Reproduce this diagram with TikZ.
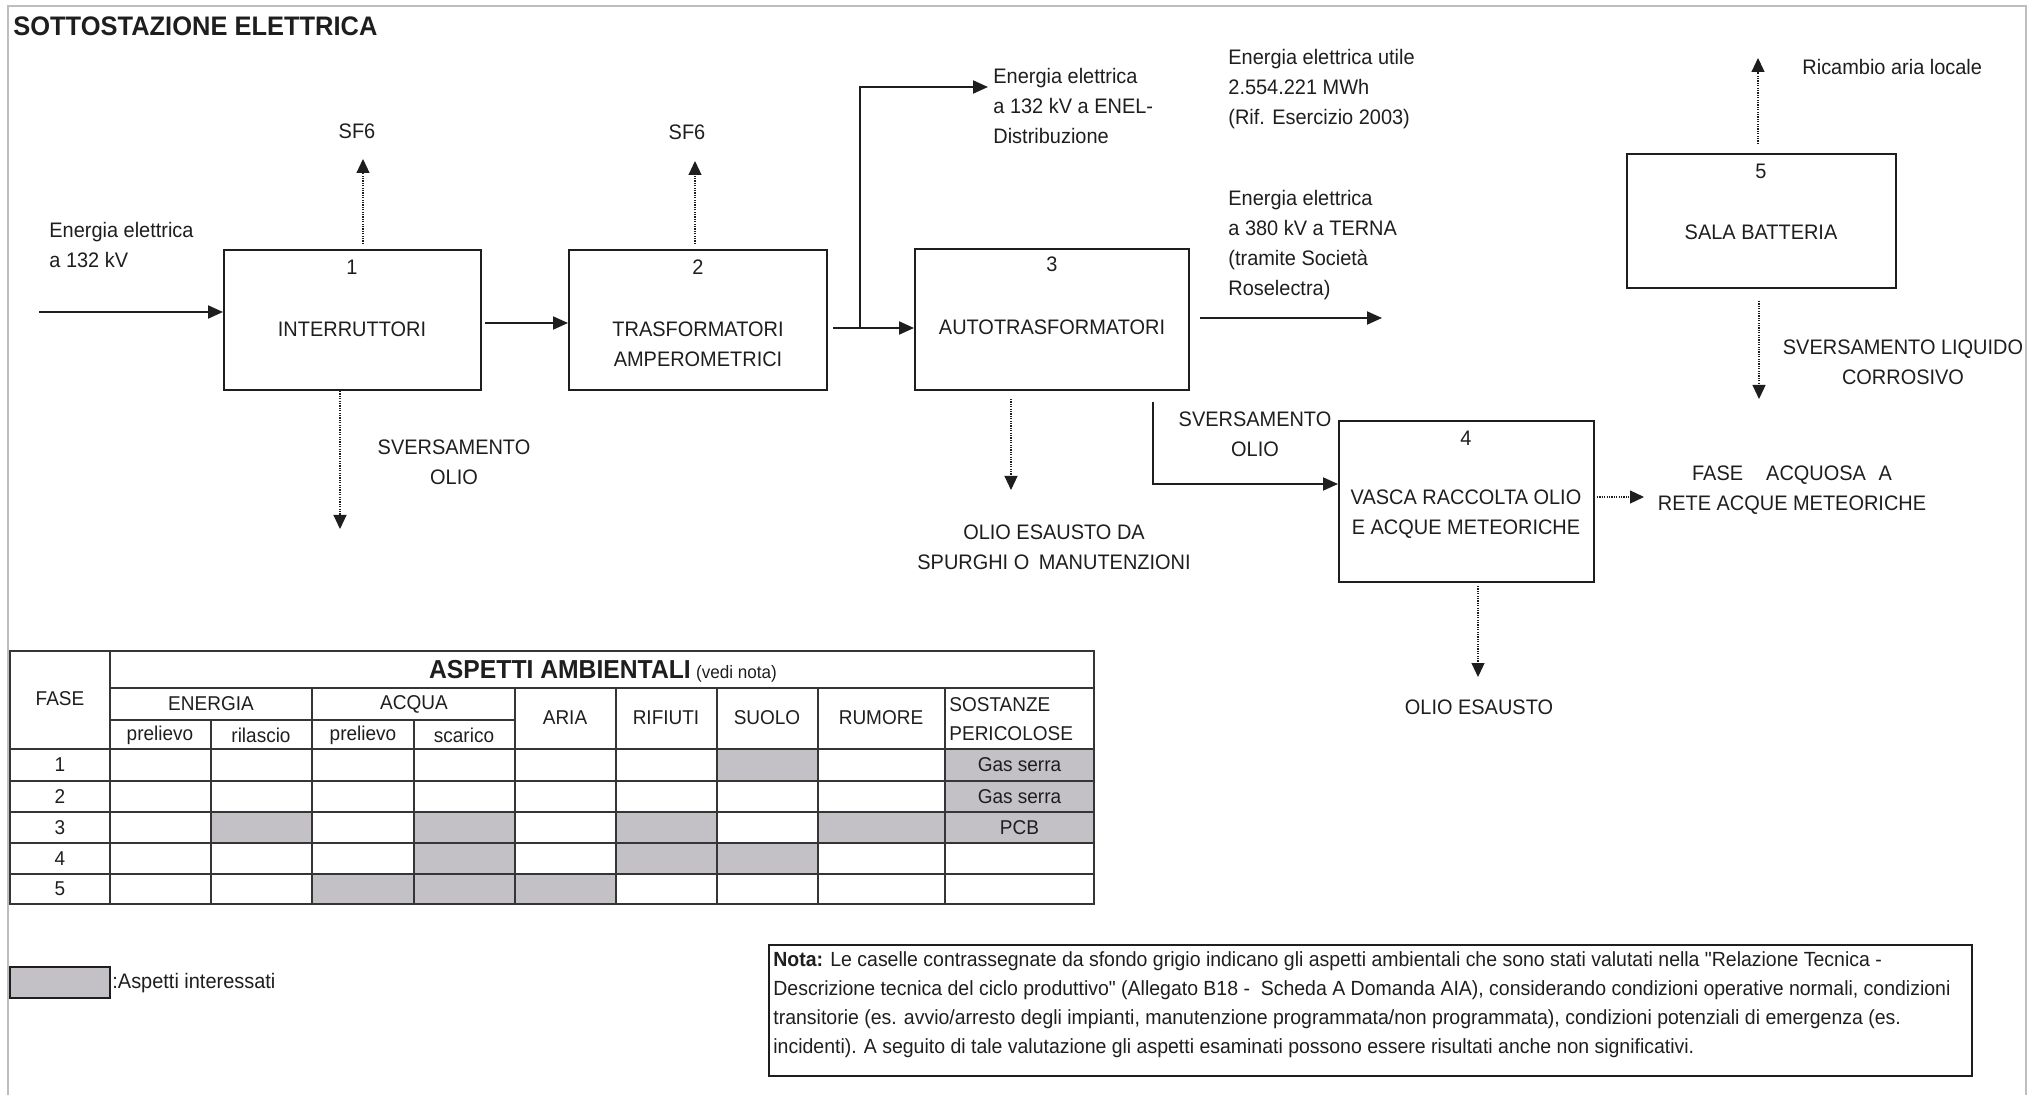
\documentclass[tikz,border=0pt]{standalone}
\usepackage{fontspec}
\setmainfont[FakeStretch=0.95,Ligatures=TeXOff]{Liberation Sans}
\usetikzlibrary{arrows.meta,calc}
\definecolor{cellgray}{RGB}{195,193,198}
\definecolor{framegray}{RGB}{190,190,190}
\definecolor{ink}{RGB}{30,30,30}
\begin{document}
\begin{tikzpicture}[x=0.5pt,y=-0.5pt,
  box/.style={draw=ink, line width=1pt, inner sep=0pt},
  lbl/.style={inner sep=0pt, font=\fontsize{10.5pt}{15pt}\selectfont, align=center, text=ink},
  lbll/.style={lbl, align=left},
  tbl/.style={inner sep=0pt, font=\fontsize{10pt}{14.5pt}\selectfont, align=center, text=ink},
  solarr/.style={draw=ink, line width=1pt, -{Triangle[length=7.5pt,width=6.5pt]}},
  dotarr/.style={draw=ink, line width=0.55pt, dash pattern=on 0.6pt off 0.6pt, -{Triangle[length=7pt,width=6.5pt]}},
  grid/.style={draw=ink!90, line width=0.8pt},
  gridb/.style={draw=ink!90, line width=1.2pt}]
\useasboundingbox (0,0) rectangle (2033,1095);
% frame
\draw[framegray, line width=0.7pt] (8,1095) -- (8,6) -- (2026,6) -- (2026,1095);
% title
\node[inner sep=0pt, anchor=west, font=\fontsize{13.4pt}{15pt}\selectfont\bfseries, text=ink] (title) at (13,26) {SOTTOSTAZIONE ELETTRICA};

% boxes
\node[box, minimum width=128.5pt, minimum height=70pt] (b1) at (352.5,320) {};
\node[box, minimum width=129pt, minimum height=70pt] (b2) at (698,320) {};
\node[box, minimum width=137pt, minimum height=70.5pt] (b3) at (1052,319.5) {};
\node[box, minimum width=127.5pt, minimum height=80.5pt] (b4) at (1466.5,501.5) {};
\node[box, minimum width=134.5pt, minimum height=67pt] (b5) at (1761.5,221) {};

% box texts
\node[lbl] (n1) at (352,267) {1};
\node[lbl] (t1) at (352,329) {INTERRUTTORI};
\node[lbl] (n2) at (698,267) {2};
\node[lbl] (t2) at (698,344) {TRASFORMATORI\\AMPEROMETRICI};
\node[lbl] (n3) at (1052,264) {3};
\node[lbl] (t3) at (1052,327) {AUTOTRASFORMATORI};
\node[lbl] (n4) at (1466,438) {4};
\node[lbl] (t4) at (1466,514) {VASCA RACCOLTA OLIO\\E ACQUE METEORICHE};
\node[lbl] (n5) at (1761,171) {5};
\node[lbl] (t5) at (1761,232) {SALA BATTERIA};

% input
\coordinate (in) at (39,312);
\draw[solarr] (in) -- (in -| b1.west);
\node[lbll, anchor=west] (lin) at (49,245) {Energia elettrica\\a 132 kV};

% SF6 1
\coordinate (sf1) at (363,159);
\draw[dotarr] ($(sf1 |- b1.north)+(0,-5)$) -- (sf1);
\node[lbl] (lsf1) at (357,131) {SF6};
% SF6 2
\coordinate (sf2) at (695,161);
\draw[dotarr] ($(sf2 |- b2.north)+(0,-5)$) -- (sf2);
\node[lbl] (lsf2) at (687,132) {SF6};

% b1 -> b2
\coordinate (s12) at ($(b1.east)+(3,3)$);
\draw[solarr] (s12) -- (s12 -| b2.west);

% sversamento 1
\coordinate (sv1) at (340,529);
\draw[dotarr] (sv1 |- b1.south) -- (sv1);
\node[lbl] (lsv1) at (454,462) {SVERSAMENTO\\OLIO};

% b2 -> b3 and branch
\coordinate (s23) at ($(b2.east)+(5,8)$);
\draw[solarr] (s23) -- (s23 -| b3.west);
\coordinate (br) at (860,328);
\coordinate (enel) at (988,87);
\draw[solarr] (br) |- (enel);
\node[lbll, anchor=west] (lenel) at (993,106) {Energia elettrica\\a 132 kV a ENEL-\\Distribuzione};

% utile text
\node[lbll, anchor=west] (lutile) at (1228,89) {Energia elettrica utile\\2.554.221 MWh\\(Rif. Esercizio 2003)};

% b3 -> TERNA
\coordinate (terna) at (1382,318);
\draw[solarr] ($(b3.east |- terna)+(10,0)$) -- (terna);
\node[lbll, anchor=west] (lterna) at (1228,245) {Energia elettrica\\a 380 kV a TERNA\\(tramite Società\\Roselectra)};

% b3 down (olio esausto)
\coordinate (oe3) at (1011,490);
\draw[dotarr] ($(oe3 |- b3.south)+(0,8)$) -- (oe3);
\node[lbl] (loe3) at (1054,547) {OLIO ESAUSTO DA\\SPURGHI O\hspace{0.45em}MANUTENZIONI};

% b3 -> b4
\coordinate (v1) at (1153,402);
\coordinate (v2) at (1153,484);
\draw[solarr] (v1) -- (v2) -- (v2 -| b4.west);
\node[lbl] (lsv3) at (1255,434) {SVERSAMENTO\\OLIO};

% b4 -> right
\coordinate (fa) at (1644,497);
\draw[dotarr] ($(b4.east |- fa)+(2,0)$) -- (fa);
\node[lbl] (lfa) at (1792,490) {FASE\hspace{1.1em}ACQUOSA\hspace{0.6em}A\\RETE ACQUE METEORICHE};

% b4 down
\coordinate (oe4) at (1478,677);
\draw[dotarr] ($(b4.south -| oe4)+(0,3)$) -- (oe4);
\node[lbl] (loe4) at (1479,707) {OLIO ESAUSTO};

% b5 up
\coordinate (ra) at (1758,58);
\draw[dotarr] ($(b5.north -| ra)+(0,-9)$) -- (ra);
\node[lbll, anchor=west] (lra) at (1802,67) {Ricambio aria locale};

% b5 down
\coordinate (sl) at (1759,399);
\draw[dotarr] ($(b5.south -| sl)+(0,12)$) -- (sl);
\node[lbl] (lsl) at (1903,362) {SVERSAMENTO LIQUIDO\\CORROSIVO};

% ===== table =====
\fill[cellgray] (717,749) rectangle (818,781);
\fill[cellgray] (945,749) rectangle (1094,781);
\fill[cellgray] (945,781) rectangle (1094,812);
\fill[cellgray] (211,812) rectangle (312,843);
\fill[cellgray] (414,812) rectangle (515,843);
\fill[cellgray] (616,812) rectangle (717,843);
\fill[cellgray] (818,812) rectangle (1094,843);
\fill[cellgray] (414,843) rectangle (515,874);
\fill[cellgray] (616,843) rectangle (818,874);
\fill[cellgray] (312,874) rectangle (616,904);

% grid
\draw[gridb] (10,651) rectangle (1094,904);
\draw[grid] (110,651) -- (110,904);
\draw[grid] (110,688) -- (1094,688);
\draw[grid] (110,720) -- (515,720);
\draw[gridb] (10,749) -- (1094,749);
\foreach \yy in {781,812,843,874} { \draw[gridb] (10,\yy) -- (1094,\yy); }
\foreach \xx in {211,414} { \draw[grid] (\xx,720) -- (\xx,904); }
\foreach \xx in {312,515,616,717,818,945} { \draw[grid] (\xx,688) -- (\xx,904); }

% table texts
\node[inner sep=0pt, text=ink] (thead) at (603,671) {{\fontsize{13pt}{15pt}\selectfont\bfseries ASPETTI AMBIENTALI} {\fontsize{9pt}{11pt}\selectfont (vedi nota)}};
\node[tbl] (tfase) at (60,699) {FASE};
\node[tbl] (ten) at (211,704) {ENERGIA};
\node[tbl] (tac) at (414,704) {ACQUA};
\node[tbl] (tp1) at (160,735) {prelievo};
\node[tbl] (tri) at (261,735) {rilascio};
\node[tbl] (tp2) at (363,735) {prelievo};
\node[tbl] (tsc) at (464,735) {scarico};
\node[tbl] (tar) at (565,718) {ARIA};
\node[tbl] (trf) at (666,718) {RIFIUTI};
\node[tbl] (tsu) at (767,718) {SUOLO};
\node[tbl] (tru) at (881,718) {RUMORE};
\node[tbl, align=left, anchor=west] (tso) at (949,719) {SOSTANZE\\PERICOLOSE};
\node[tbl] (r1) at (60,765) {1};
\node[tbl] (r2) at (60,796.5) {2};
\node[tbl] (r3) at (60,827.5) {3};
\node[tbl] (r4) at (60,858.5) {4};
\node[tbl] (r5) at (60,889) {5};
\node[tbl] (g1) at (1019.5,765) {Gas serra};
\node[tbl] (g2) at (1019.5,796.5) {Gas serra};
\node[tbl] (g3) at (1019.5,827.5) {PCB};

% legend
\draw[draw=ink, line width=1pt, fill=cellgray] (10,967) rectangle (110,998);
\node[lbll, anchor=west] (leg) at (112,983) {:Aspetti interessati};

% nota
\draw[draw=ink, line width=1pt] (769,945) rectangle (1972,1076);
\node[inner sep=0pt, anchor=west, align=left, text=ink, font=\fontsize{10.25pt}{14.5pt}\selectfont] (nota) at (773,1005) {\textbf{Nota:} Le caselle contrassegnate da sfondo grigio indicano gli aspetti ambientali che sono stati valutati nella "Relazione Tecnica -\\
Descrizione tecnica del ciclo produttivo" (Allegato B18 -\ \ Scheda A Domanda AIA), considerando condizioni operative normali, condizioni\\
transitorie (es. avvio/arresto degli impianti, manutenzione programmata/non programmata), condizioni potenziali di emergenza (es.\\
incidenti). A seguito di tale valutazione gli aspetti esaminati possono essere risultati anche non significativi.};
\end{tikzpicture}
\end{document}
